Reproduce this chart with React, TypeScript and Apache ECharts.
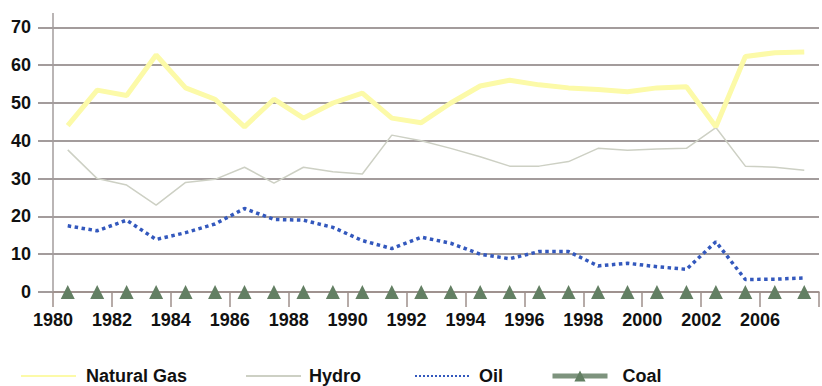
import React, { useEffect, useRef } from "react";
import * as echarts from "echarts";

const years = [
  "1980", "1981", "1982", "1983", "1984", "1985", "1986", "1987", "1988", "1989",
  "1990", "1991", "1992", "1993", "1994", "1995", "1996", "1997", "1998", "1999",
  "2000", "2001", "2002", "2003", "2004", "2005",
];
const tickLabels = [
  "1980", "1982", "1984", "1986", "1988", "1990", "1992", "1994", "1996", "1998",
  "2000", "2002", "2006", "",
];
const naturalGas = [
  44, 53.4, 52, 62.7, 54, 51, 43.7, 51, 46, 50, 52.6, 46, 44.8, 50, 54.5, 56, 54.8,
  54, 53.6, 53, 54, 54.3, 43.7, 62.3, 63.3, 63.5,
];
const hydro = [
  37.6, 30, 28.3, 23, 29, 29.8, 33, 28.8, 33, 31.8, 31.2, 41.5, 40, 38, 35.8, 33.3,
  33.3, 34.5, 38, 37.5, 37.8, 38, 43.5, 33.3, 33, 32.2,
];
const oil = [
  17.5, 16.2, 19, 13.9, 15.7, 18, 22.1, 19.2, 19, 17.1, 13.6, 11.5, 14.5, 12.9, 10,
  8.8, 10.7, 10.7, 6.9, 7.6, 6.7, 6, 13.3, 3.3, 3.4, 3.7,
];
const coal = [
  0, 0, 0, 0, 0, 0, 0, 0, 0, 0, 0, 0, 0, 0, 0, 0, 0, 0, 0, 0, 0, 0, 0, 0, 0, 0,
];

const FONT = "'Liberation Sans', Arial, sans-serif";
const AXIS = "#a39c9c";
const TICK = "#9e8f8b";

export default function App() {
  const ref = useRef<HTMLDivElement>(null);
  useEffect(() => {
    if (!ref.current) return;
    const chart = echarts.init(ref.current, null, { renderer: "svg" });
    const mkLegend = (name: string, left: number, pad: number, extra: any = {}) => ({
      show: true,
      left,
      top: 362,
      itemWidth: 55,
      itemHeight: 14,
      data: [name],
      textStyle: {
        fontSize: 18,
        fontWeight: "bold",
        color: "#111",
        fontFamily: FONT,
        padding: [0, 0, 0, pad],
      },
      ...extra,
    });
    chart.setOption({
      animation: false,
      backgroundColor: "#ffffff",
      grid: { left: 53, right: -7.6, top: 27.4, bottom: 386 - 292 },
      legend: [
        mkLegend("Natural Gas", 15, 5, { itemStyle: { opacity: 0 } }),
        mkLegend("Hydro", 240, 3, { itemStyle: { opacity: 0 } }),
        mkLegend("Oil", 409, 4, { itemStyle: { opacity: 0 } }),
        mkLegend("Coal", 545, 10, {
          lineStyle: { width: 5, color: "#7d937d", opacity: 1 },
        }),
      ],
      xAxis: [
        {
          type: "category",
          data: years,
          boundaryGap: true,
          position: "bottom",
          axisLine: { show: true, lineStyle: { color: TICK, width: 1.5 } },
          axisTick: { show: false },
          axisLabel: { show: false },
          splitLine: { show: false },
        },
        {
          type: "category",
          data: tickLabels,
          boundaryGap: false,
          position: "bottom",
          axisLine: { show: false },
          axisTick: {
            show: true,
            length: 15,
            interval: 0,
            lineStyle: { color: TICK, width: 1.5 },
          },
          axisLabel: {
            show: true,
            interval: 0,
            margin: 19,
            fontSize: 18,
            fontWeight: "bold",
            color: "#111",
            fontFamily: FONT,
          },
          splitLine: { show: false },
        },
      ],
      yAxis: {
        type: "value",
        min: 0,
        max: 70,
        interval: 10,
        axisLine: { show: true, lineStyle: { color: AXIS, width: 1.5 } },
        axisTick: { show: true, length: 15, lineStyle: { color: AXIS, width: 2 } },
        splitLine: { show: true, lineStyle: { color: AXIS, width: 2 } },
        axisLabel: {
          margin: 22,
          fontSize: 18,
          fontWeight: "bold",
          color: "#111",
          fontFamily: FONT,
        },
      },
      graphic: [
        {
          type: "line",
          shape: { x1: 53, y1: 13, x2: 53, y2: 28 },
          style: { stroke: AXIS, lineWidth: 1.5 },
        },
      ],
      series: [
        {
          name: "Natural Gas",
          type: "line",
          data: naturalGas,
          symbol: "none",
          lineStyle: { color: "#fcfaa8", width: 5 },
          itemStyle: { color: "#fcfaa8" },
          z: 3,
        },
        {
          name: "Hydro",
          type: "line",
          data: hydro,
          symbol: "none",
          lineStyle: { color: "#cdd0c4", width: 1.5 },
          itemStyle: { color: "#cdd0c4" },
          z: 2,
        },
        {
          name: "Oil",
          type: "line",
          data: oil,
          symbol: "none",
          lineStyle: { color: "#3358bd", width: 3.5, type: "dotted" },
          itemStyle: { color: "#3358bd" },
          z: 4,
        },
        {
          name: "Coal",
          type: "line",
          data: coal,
          symbol: "triangle",
          symbolSize: 14,
          showSymbol: true,
          lineStyle: { opacity: 0, width: 5, color: "#7d937d" },
          itemStyle: { color: "#637f63" },
          z: 5,
        },
      ],
    });
    return () => chart.dispose();
  }, []);
  return (
    <div
      ref={ref}
      style={{ position: "fixed", left: 0, top: 0, width: 822, height: 386 }}
    />
  );
}
